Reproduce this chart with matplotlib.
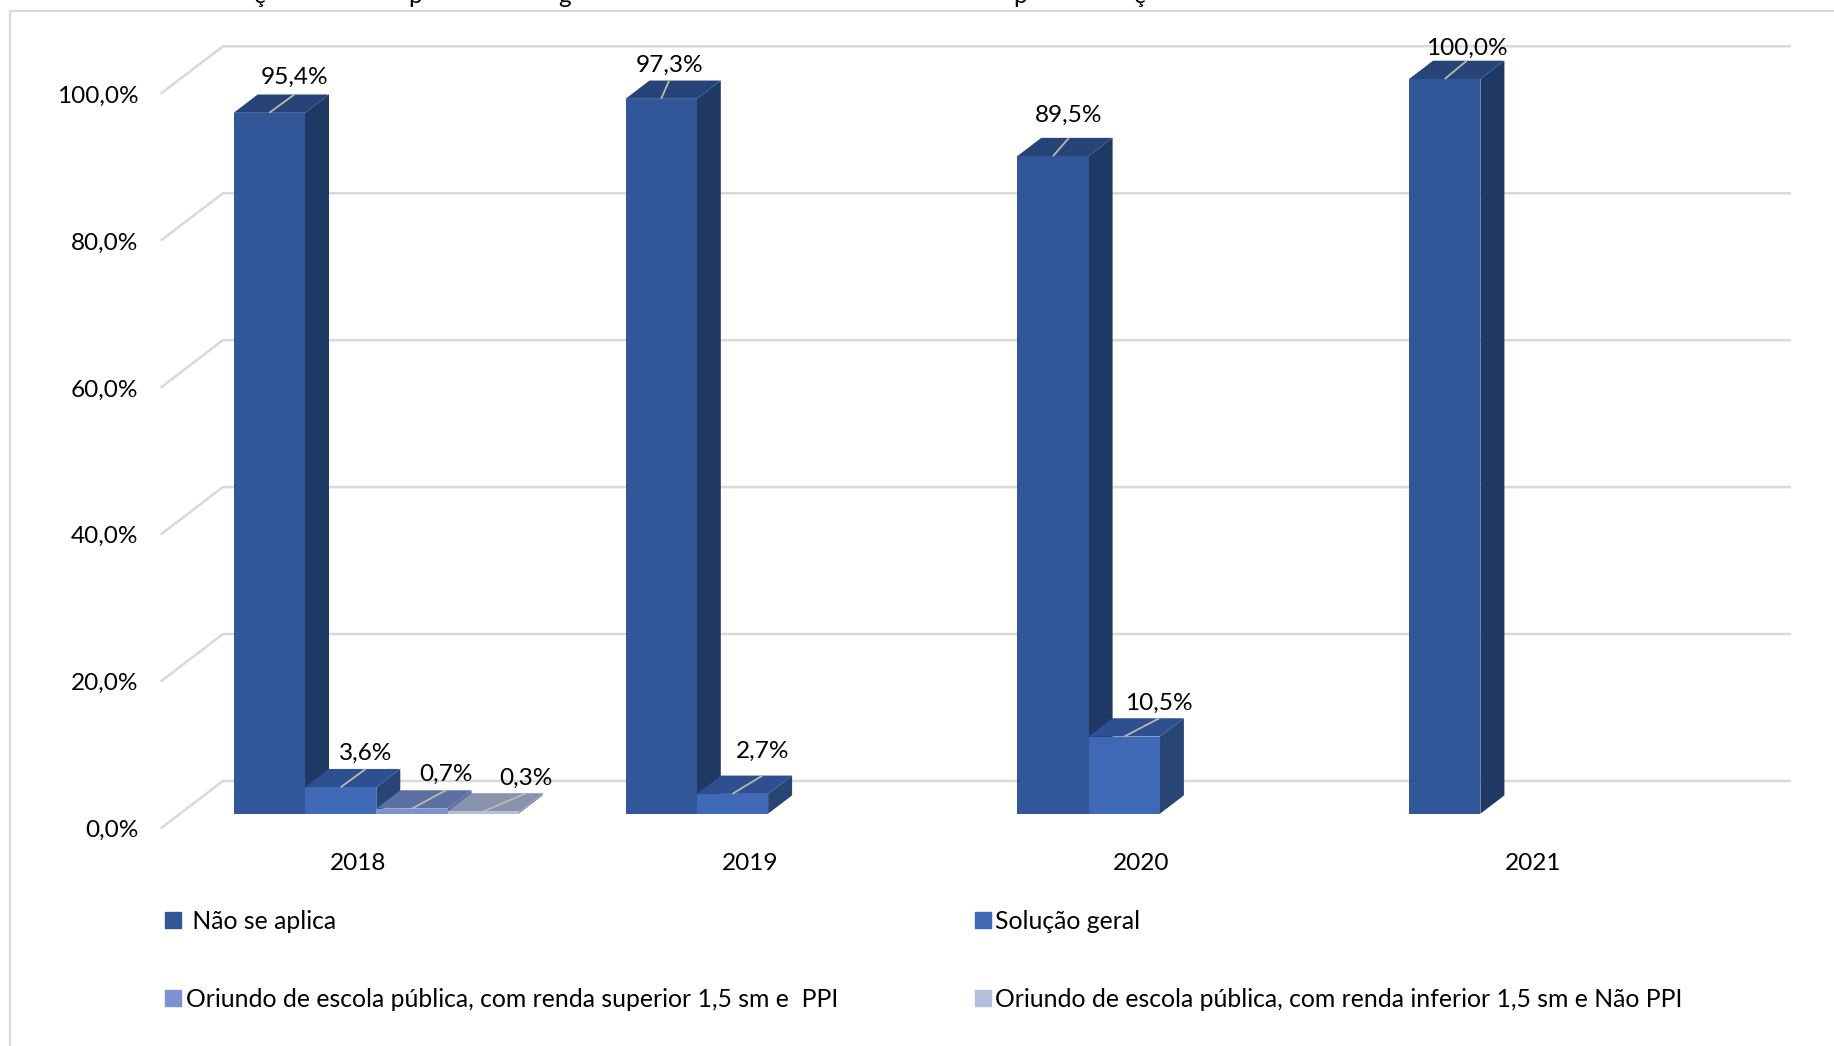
import matplotlib
matplotlib.use("Agg")
import matplotlib.pyplot as plt
from matplotlib.lines import Line2D
from matplotlib.patches import Patch, Polygon
from matplotlib.transforms import ScaledTranslation

plt.rcParams['font.family'] = ['Lato', 'DejaVu Sans']

# data
years = ['2018', '2019', '2020', '2021']
series_names = [
    ' Não se aplica',
    'Solução geral',
    'Oriundo de escola pública, com renda superior 1,5 sm e  PPI',
    'Oriundo de escola pública, com renda inferior 1,5 sm e Não PPI',
]
nao_se_aplica = [95.4, 97.3, 89.5, 100.0]
solucao_geral = [3.6, 2.7, 10.5, 0]
renda_superior = [0.7, 0, 0, 0]
renda_inferior = [0.3, 0, 0, 0]
y_ticks = [0, 20, 40, 60, 80, 100]

# only the descenders of the cropped title can be seen
title_bits = ['ç', 'p', 'g', 'p', 'ç']
title_bits_x = [260, 415, 565, 1020, 1140]

# colours: front, top, side
front_cols = ['#315799', '#3F69B5', '#7C93D0', '#B4BFE0']
top_cols = ['#264478', '#2E5090', '#5B6FA3', '#8A93AE']
side_cols = ['#203864', '#274676', '#5B6FA3', '#8A93AE']
GRID = '#D9D9D9'
LEADER = '#BDB8AC'

W, H = 1834, 1046
DPI = 100
PX_CAT = 391.8          # pixels for one year
PX_PCT = 7.347          # pixels for one percent
BAR_W = 71.3 / PX_CAT
BAR_START = 53.7 / PX_CAT
DEPTH_X = 24 / PX_CAT   # bar depth in data units
DEPTH_Y = 18.3 / PX_PCT
FONT = 17.6

fig = plt.figure(figsize=(W / DPI, H / DPI), dpi=DPI)
ax = fig.add_axes([180 / W, (H - 813.7) / H, 4 * PX_CAT / W, 100 * PX_PCT / H])
ax.set_xlim(0, 4)
ax.set_ylim(0, 100)
ax.patch.set_visible(False)
for s in ax.spines.values():
    s.set_visible(False)

# chart frame, cut off at the right and at the bottom
fig.add_artist(Line2D([10 / W, 10 / W], [0, 1 - 11 / H], color=GRID, lw=1.5))
fig.add_artist(Line2D([10 / W, 1], [1 - 11 / H, 1 - 11 / H], color=GRID, lw=1.5))

for x, bit in zip(title_bits_x, title_bits):
    fig.text(x / W, 1 - 3 / H, bit, fontsize=FONT, ha='center', va='baseline', color='black')

# wall and floor lines
for v in y_ticks:
    ax.plot([-0.765 * DEPTH_X, 1.787 * DEPTH_X, 4 + 1.78 * DEPTH_X],
            [v - 0.765 * DEPTH_Y, v + 1.787 * DEPTH_Y, v + 1.787 * DEPTH_Y],
            color=GRID, lw=1.8, clip_on=False, zorder=1)

all_series = [nao_se_aplica, solucao_geral, renda_superior, renda_inferior]

# how far each leader runs to the right, in pixels, per series and year
leader_px = [
    [25, 8, 16, 22],
    [25, 30, 35, 0],
    [34, 0, 0, 0],
    [43, 0, 0, 0],
]
# how far each value label sits above its leader, in points
label_lift = [
    [12.5, 11, 16.2, 9],
    [11, 17.5, 11, 0],
    [11.8, 0, 0, 0],
    [11, 0, 0, 0],
]

z = 2
for yi in range(len(years)):
    for si, values in enumerate(all_series):
        v = values[yi]
        if v == 0:
            continue
        x0 = yi + BAR_START + si * BAR_W
        x1 = x0 + BAR_W
        ax.bar(x0, v, BAR_W, align='edge', color=front_cols[si], linewidth=0, zorder=z + 1, clip_on=False)
        ax.add_patch(Polygon([(x1, 0), (x1 + DEPTH_X, DEPTH_Y), (x1 + DEPTH_X, v + DEPTH_Y), (x1, v)],
                             closed=True, fc=side_cols[si], ec='none', zorder=z, clip_on=False))
        ax.add_patch(Polygon([(x0, v), (x0 + DEPTH_X, v + DEPTH_Y), (x1 + DEPTH_X, v + DEPTH_Y), (x1, v)],
                             closed=True, fc=top_cols[si], ec='none', zorder=z, clip_on=False))
        z += 2

# leaders and value labels go on top of every bar
for yi in range(len(years)):
    for si, values in enumerate(all_series):
        v = values[yi]
        if v == 0:
            continue
        cx = yi + BAR_START + (si + 0.5) * BAR_W
        end_x = cx + leader_px[si][yi] / PX_CAT
        ax.plot([cx, end_x], [v, v + DEPTH_Y], color=LEADER, lw=1.3, zorder=200,
                clip_on=False, solid_capstyle='butt')
        ax.annotate(f'{v:.1f}%'.replace('.', ','), (end_x, v + DEPTH_Y), xytext=(0, label_lift[si][yi]),
                    textcoords='offset points', ha='center', va='center', fontsize=FONT, color='black',
                    zorder=201, annotation_clip=False)

# tick labels sit on the front edge of the floor, not on the bar plane
ax.set_xticks([i + 0.5 for i in range(len(years))])
ax.set_xticklabels(years, fontsize=FONT)
ax.set_yticks(y_ticks)
ax.set_yticklabels([f'{t:.1f}%'.replace('.', ',') for t in y_ticks], fontsize=FONT)
ax.tick_params(axis='x', length=0, pad=28)
ax.tick_params(axis='y', length=0, pad=30)
for lab in ax.get_xticklabels():
    lab.set_transform(lab.get_transform() + ScaledTranslation(-18 / DPI, 0, fig.dpi_scale_trans))
for lab in ax.get_yticklabels():
    lab.set_transform(lab.get_transform() + ScaledTranslation(0, -15 / DPI, fig.dpi_scale_trans))

handles = [Patch(color=front_cols[i]) for i in (0, 2, 1, 3)]
labels = [series_names[i] for i in (0, 2, 1, 3)]
fig.legend(handles, labels, ncol=2, loc='upper left', bbox_to_anchor=(165 / W, 1 - 910 / H), frameon=False,
           fontsize=17.8, handlelength=0.66, handleheight=0.63, handletextpad=0.17, labelspacing=2.22,
           columnspacing=5.55, borderpad=0, borderaxespad=0)

fig.savefig('out.png', dpi=DPI)
